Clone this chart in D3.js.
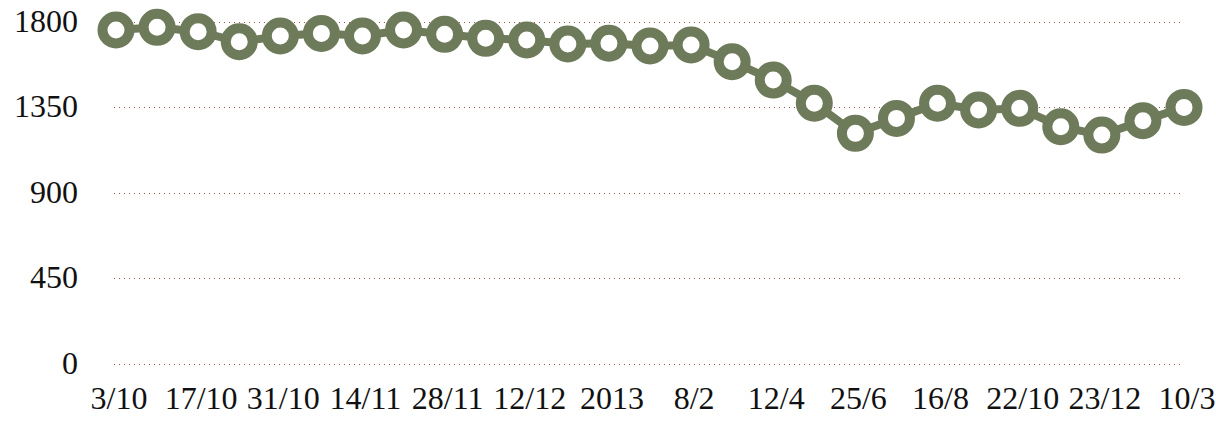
<!DOCTYPE html>
<html>
<head>
<meta charset="utf-8">
<script src="https://cdn.jsdelivr.net/npm/d3@7"></script>
<style>
  body { margin: 0; background: #fff; }
  text { font-family: "Liberation Serif", "DejaVu Serif", serif; font-variant-numeric: oldstyle-nums; fill: #111; }
</style>
</head>
<body>
<div id="chart"></div>
<script>
const width = 1216
const height = 423

// 27 observations, only every second one has a label
const values = [1758, 1772, 1749, 1696, 1726, 1740, 1726, 1758, 1735, 1714, 1705, 1684, 1688, 1674,
  1679, 1591, 1494, 1372, 1213, 1292, 1372, 1336, 1345, 1248, 1204, 1280, 1350]
const tickLabels = ['3/10', '17/10', '31/10', '14/11', '28/11', '12/12', '2013', '8/2', '12/4',
  '25/6', '16/8', '22/10', '23/12', '10/3']
const yTicks = [0, 450, 900, 1350, 1800]

const green = '#6e7b5a'

const svg = d3.select('#chart').append('svg')
  .attr('width', width)
  .attr('height', height)

const xScale = d3.scalePoint()
  .domain(d3.range(values.length))
  .range([116, 1184])
const yScale = d3.scaleLinear()
  .domain([0, 1800])
  .range([363.5, 22])

// gridlines
svg.append('g')
  .selectAll('line')
  .data(yTicks)
  .join('line')
  .attr('x1', 114)
  .attr('x2', 1184)
  .attr('y1', d => Math.round(yScale(d)) + 0.5)
  .attr('y2', d => Math.round(yScale(d)) + 0.5)
  .attr('stroke', '#9b5656')
  .attr('stroke-width', 1)
  .attr('stroke-dasharray', '1,4')

// y labels
svg.append('g')
  .selectAll('text')
  .data(yTicks)
  .join('text')
  .attr('x', 78)
  .attr('y', d => yScale(d) + 10)
  .attr('text-anchor', 'end')
  .attr('font-size', 32)
  .text(d => d)

// x labels
svg.append('g')
  .selectAll('text')
  .data(tickLabels)
  .join('text')
  .attr('x', (d, i) => xScale(i * 2) + 3)
  .attr('y', 409)
  .attr('text-anchor', 'middle')
  .attr('font-size', 32)
  .text(d => d)

const line = d3.line()
  .x((d, i) => xScale(i))
  .y(d => yScale(d))

svg.append('path')
  .datum(values)
  .attr('fill', 'none')
  .attr('stroke', green)
  .attr('stroke-width', 8)
  .attr('d', line)

svg.append('g')
  .selectAll('circle')
  .data(values)
  .join('circle')
  .attr('cx', (d, i) => xScale(i))
  .attr('cy', d => yScale(d))
  .attr('r', 13.5)
  .attr('fill', '#fff')
  .attr('stroke', green)
  .attr('stroke-width', 10)
</script>
</body>
</html>
